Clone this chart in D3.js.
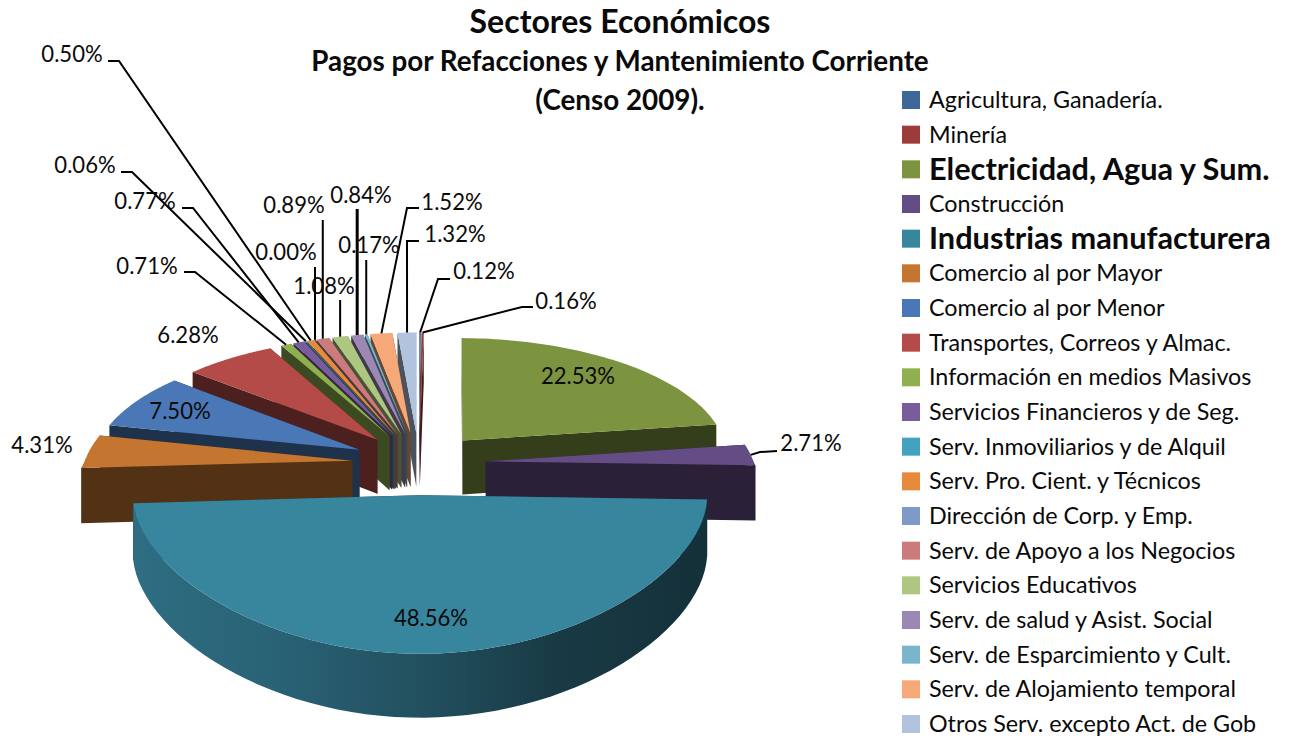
<!DOCTYPE html>
<html lang="es">
<head>
<meta charset="utf-8">
<title>Sectores Económicos</title>
<script src="https://cdn.jsdelivr.net/npm/d3@7"></script>
<style>
  html, body { margin: 0; background: #fff; }
  text { font-family: Lato, "Noto Sans", sans-serif; fill: #0a0a0a; }
</style>
</head>
<body>
<svg id="chart" width="1289" height="739"></svg>
<script>
// Census 2009 shares by economic sector, clockwise from twelve o'clock.
const sectors = [
  "Agricultura, Ganadería.", "Minería", "Electricidad, Agua y Sum.", "Construcción",
  "Industrias manufacturera", "Comercio al por Mayor", "Comercio al por Menor",
  "Transportes, Correos y Almac.", "Información en medios Masivos",
  "Servicios Financieros y de Seg.", "Serv. Inmoviliarios y de Alquil",
  "Serv. Pro. Cient. y Técnicos", "Dirección de Corp. y Emp.",
  "Serv. de Apoyo a los Negocios", "Servicios Educativos",
  "Serv. de salud y Asist. Social", "Serv. de Esparcimiento y Cult.",
  "Serv. de Alojamiento temporal", "Otros Serv. excepto Act. de Gob"
];
const shares = [0.12, 0.16, 22.53, 2.71, 48.56, 4.31, 7.50, 6.28, 0.71, 0.77, 0.06, 0.50, 0.00, 0.89, 1.08, 0.84, 0.17, 1.52, 1.32];
const palette = [
  "#3d6899", "#9b3c3a", "#7c933f", "#644c85", "#38859e", "#c4752f", "#4a78b6",
  "#b44b49", "#90b050", "#785c9c", "#41a3bf", "#e88a3c", "#7d9ac8", "#cb7b7b",
  "#adc680", "#9c88b5", "#79b6cc", "#f6a878", "#b2c3de"
];
const emphasised = ["Electricidad, Agua y Sum.", "Industrias manufacturera"];
const heavyLeaders = ["Serv. de salud y Asist. Social"];
const titleLines = ["Sectores Económicos", "Pagos por Refacciones y Mantenimiento Corriente", "(Censo 2009)."];

// Hand-placed data labels: [label centre x, label centre y, optional elbow points].
const labelSpots = [
  [484, 271, [[450, 279], [438, 279]]],
  [566, 301, [[533, 307], [522, 307]]],
  [578, 376],
  [811, 443, [[777, 451], [760, 452]]],
  [431, 618],
  [42, 445],
  [180, 411],
  [188, 335],
  [147, 266, [[184, 272], [195, 272]]],
  [145, 201, [[182, 208], [193, 208]]],
  [85, 165, [[121, 172], [132, 172]]],
  [72, 54, [[108, 61], [119, 61]]],
  [286, 252, "drop", 267],
  [294, 205, "drop", 220],
  [324, 286, "drop", 300],
  [361, 195, "drop", 209],
  [369, 245, "drop", 260],
  [452, 202, [[419, 208], [407, 208]]],
  [455, 234, [[419, 241], [407, 241]]]
];

const svg = d3.select("#chart");

// Ground-plane camera: unit-radius pie coordinates to screen. Widths grow faster
// on the viewer's side of the centre, levelling off past the near flange.
const origin = { x: 419, y: 463 };
const spreadX = 268, spreadY = 124, recede = 0.15, thickness = 55, explode = 0.25;
const recedeFar = 0.13, recedeNear = 0.24, nearLimit = -0.28, wallGrowth = 0.7;
const depthScale = Y => 1 / (1 + recede * Y);
const widthScale = Y => 1 / (1 + (Y > 0 ? recedeFar : recedeNear) * Math.max(Y, nearLimit));
const project = ([X, Y], drop = 0) => {
  const s = depthScale(Y);
  return [
    origin.x + spreadX * X * widthScale(Y),
    origin.y - spreadY * Y * s + drop * (1 + (s - 1) * wallGrowth)
  ];
};

const slices = d3.pie().sort(null).value(d => d).startAngle(0).endAngle(2 * Math.PI)(shares)
  .map((d, i) => {
    const mid = (d.startAngle + d.endAngle) / 2;
    return { ...d, i, mid, apex: [explode * Math.sin(mid), explode * Math.cos(mid)] };
  });

const onRim = (s, a) => [s.apex[0] + Math.sin(a), s.apex[1] + Math.cos(a)];
const shade = (c, k) => { const r = d3.rgb(c); return d3.rgb(r.r * k, r.g * k, r.b * k).formatHex(); };
const outline = d3.line();

// Horizontal light falloff along the rim of the largest slice.
const defs = svg.append("defs");
const rimShade = defs.append("linearGradient").attr("id", "rimShade")
  .attr("gradientUnits", "userSpaceOnUse").attr("x1", 135).attr("x2", 708).attr("y1", 0).attr("y2", 0);
[[0, 0.82], [0.25, 0.74], [0.5, 0.6], [0.72, 0.44], [1, 0.36]].forEach(([o, k]) =>
  rimShade.append("stop").attr("offset", o).attr("stop-color", shade(palette[4], k)));

const pieLayer = svg.append("g");
const drawOrder = slices.slice().sort((a, b) => Math.cos(b.mid) - Math.cos(a.mid));

drawOrder.forEach(s => {
  const colour = palette[s.i];
  const wall = shade(colour, 0.42);
  const g = pieLayer.append("g");

  const rimAngles = d3.range(0, 61).map(t => s.startAngle + (s.endAngle - s.startAngle) * t / 60);
  const edges = [s.startAngle, s.endAngle]
    .map(a => ({ a, rim: onRim(s, a) }))
    .sort((p, q) => q.rim[1] - p.rim[1]);

  // radial walls, rear one first
  edges.forEach(({ rim }) => {
    g.append("path").attr("fill", wall).attr("d", outline([
      project(s.apex), project(rim), project(rim, thickness), project(s.apex, thickness)
    ]) + "Z");
  });

  // curved outer wall, only where it faces the viewer
  const front = rimAngles.filter(a => Math.cos(a) < 0.02).map(a => onRim(s, a));
  if (front.length > 1) {
    g.append("path")
      .attr("fill", s.i === 4 ? "url(#rimShade)" : wall)
      .attr("d", outline([
        ...front.map(p => project(p)),
        ...front.slice().reverse().map(p => project(p, thickness))
      ]) + "Z");
  }

  // top face
  g.append("path").attr("fill", colour).attr("d", outline([
    project(s.apex), ...rimAngles.map(a => project(onRim(s, a)))
  ]) + "Z");
});

// Data labels and their leader lines.
const leaders = svg.append("g").attr("fill", "none").attr("stroke", "#000").attr("stroke-width", 2);
const labels = svg.append("g").attr("font-size", 24).attr("text-anchor", "middle");
const pct = d3.format(".2f");
const labelSqueeze = 0.92;

slices.forEach(s => {
  const [cx, cy, elbow, top] = labelSpots[s.i];
  const anchor = project(onRim(s, s.mid));
  const heavy = heavyLeaders.includes(sectors[s.i]);
  if (elbow === "drop") {
    leaders.append("path").attr("stroke-width", heavy ? 3 : 2).attr("d", outline([[anchor[0], top], anchor]));
  } else if (elbow) {
    leaders.append("path").attr("d", outline([...elbow, anchor]));
  }
  const label = labels.append("text").attr("x", cx).attr("y", cy).attr("dy", "0.35em").text(pct(s.value) + "%");
  label.attr("lengthAdjust", "spacingAndGlyphs")
    .attr("textLength", label.node().getComputedTextLength() * labelSqueeze);
});

// Titles
const titleBlock = svg.append("g").attr("text-anchor", "middle").attr("font-weight", 700);
const titleY = d3.scalePoint().domain(titleLines).range([22, 100]);
titleLines.forEach((t, i) => {
  titleBlock.append("text").attr("x", 620).attr("y", titleY(t)).attr("dy", "0.35em")
    .attr("font-size", i === 0 ? 32 : 27.8).text(t);
});

// Legend
const legendY = d3.scalePoint().domain(sectors).range([100, 724]);
const legend = svg.append("g");
sectors.forEach((name, i) => {
  const big = emphasised.includes(name);
  legend.append("rect").attr("x", 902).attr("y", legendY(name) - 9).attr("width", 18).attr("height", 18).attr("fill", palette[i]);
  legend.append("text").attr("x", 929).attr("y", legendY(name)).attr("dy", "0.35em")
    .attr("font-size", big ? 30.7 : 23.3).attr("font-weight", big ? 700 : 400).text(name);
});
</script>
</body>
</html>
